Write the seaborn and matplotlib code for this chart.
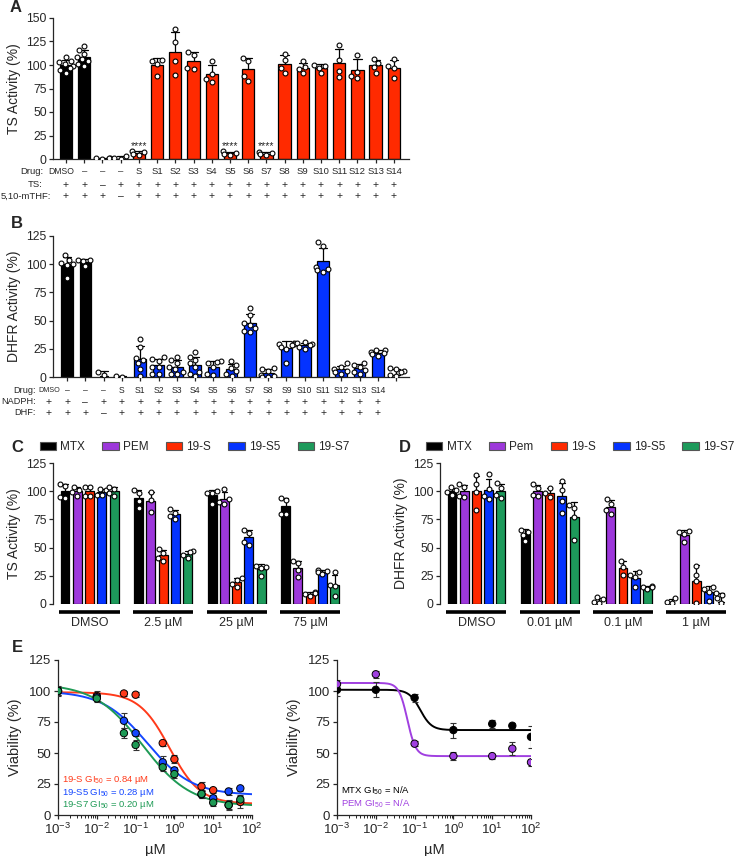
import warnings
import numpy as np
import pandas as pd
import matplotlib
matplotlib.use("Agg")
import matplotlib.pyplot as plt
import seaborn as sns
from matplotlib.patches import Patch
from matplotlib.ticker import LogLocator, NullFormatter

warnings.filterwarnings("ignore")

sns.set_style("ticks")
plt.rcParams["font.family"] = ["Liberation Sans", "DejaVu Sans"]
plt.rcParams["axes.linewidth"] = 0.9
plt.rcParams["xtick.major.width"] = 0.9
plt.rcParams["ytick.major.width"] = 0.9
plt.rcParams["xtick.major.size"] = 3
plt.rcParams["ytick.major.size"] = 3

BLACK = "#000000"
RED = "#FF2A00"
BLUE = "#0433FF"
PURPLE = "#9D38DB"
GREEN = "#1D9A5B"

# ---- panel A: TS activity ----
a_drug = ["DMSO", "–", "–", "–", "S"] + [f"S{i}" for i in range(1, 15)]
a_ts = ["+", "+", "–", "+"] + ["+"] * 15
a_mthf = ["+", "+", "+", "–"] + ["+"] * 15
a_values = [
    [108, 104, 103, 101, 99, 97, 95, 92],
    [120, 116, 112, 108, 106, 104, 101, 99],
    [1.0, 0.6, 0.3, 0.8],
    [3.5, 1.0, 0.2],
    [9, 7, 5, 4],
    [105, 104, 101, 88],
    [138, 124, 104, 89],
    [114, 111, 97, 96],
    [104, 90, 85, 82],
    [8, 6.5, 5, 4],
    [107, 104, 88, 83],
    [7.5, 6, 5, 4],
    [112, 105, 97, 92],
    [104, 98, 96, 91],
    [100, 99, 97, 91],
    [121, 105, 94, 87],
    [111, 93, 88, 86],
    [106, 102, 98, 92],
    [106, 99, 97, 86],
]
a_colors = [BLACK, BLACK, None, None] + [RED] * 15
a_stars = ["S", "S5", "S7"]

# ---- panel B: DHFR activity ----
b_drug = ["DMSO", "–", "–", "–", "S"] + [f"S{i}" for i in range(1, 15)]
b_nadph = ["+", "+", "–", "+"] + ["+"] * 15
b_dhf = ["+", "+", "+", "–"] + ["+"] * 15
b_values = [
    [108, 104, 101, 100, 99, 88],
    [104, 103.5, 103, 98],
    [1.5, 4.5],
    [0.5, 0.2],
    [34, 27, 17, 15, 12, 7, 1],
    [17.5, 16, 14.5, 9, 8.5, 3, 3],
    [18, 15, 12.5, 9, 7.5, 4.5, 3, 2.5],
    [22, 18, 15, 12, 9, 4.5, 3, 0.5],
    [14, 13, 12, 9, 3, 2],
    [14, 11, 8, 5, 3, 1],
    [61, 55, 48, 46, 43, 41, 40],
    [8, 7.5, 5.5, 1.5, 0.5, 0, 0],
    [30, 29.5, 29, 28, 27, 25, 12],
    [31, 30, 29, 28, 27, 25],
    [119.5, 116, 97.5, 96, 94.5, 93],
    [12, 9, 7, 5, 4, 3],
    [12.5, 11, 9, 6, 4.5, 3],
    [24, 23.5, 22, 21, 20, 19],
    [8, 7, 5, 4, 2, 0.5],
]
b_colors = [BLACK, BLACK, None, None] + [BLUE] * 14 + [None]

# ---- panels C and D: grouped bars ----
compounds_c = ["MTX", "PEM", "19-S", "19-S5", "19-S7"]
compounds_d = ["MTX", "Pem", "19-S", "19-S5", "19-S7"]
compound_colors = [BLACK, PURPLE, RED, BLUE, GREEN]
c_doses = ["DMSO", "2.5 µM", "25 µM", "75 µM"]
d_doses = ["DMSO", "0.01 µM", "0.1 µM", "1 µM"]

c_mtx = [[106, 105, 95, 94], [101, 98, 91, 85], [100, 98, 98, 89], [94, 92, 80, 80]]
c_pem = [[104, 101, 99, 96], [99, 92, 82], [102, 93, 90, 89], [38, 36, 30, 24]]
c_19s = [[104, 104, 96, 96], [49, 45, 41, 38], [23, 21, 18, 15], [10.5, 9.5, 8.5, 7]]
c_19s5 = [[102, 101, 97, 97], [84, 81, 78, 75], [66, 63, 55, 52], [30.5, 29.5, 28, 27]]
c_19s7 = [[104, 102, 98, 96], [47, 46, 43, 41], [34, 33, 32, 25], [28, 17, 16, 7]]

d_mtx = [[104, 101, 99, 97], [66, 64, 61, 56], [6, 4, 2, 1], [5, 2, 0.5]]
d_pem = [[106, 104, 96, 95], [106, 103, 97, 96], [93, 89, 83, 80], [65, 64, 62, 55]]
d_19s = [[114, 106, 99, 83], [103, 98, 95], [38, 33, 26], [34, 26, 20, 1]]
d_19s5 = [[115, 102, 96, 93], [109, 101, 91, 81], [28, 26, 24, 15], [15, 13, 11, 3]]
d_19s7 = [[107, 103, 97, 94], [88, 85, 77, 57], [16, 15.5, 15, 13], [10, 8, 5, 1]]
d_hidden = [(0, 2), (0, 3), (4, 3)]  # (compound, dose) drawn as points only

# ---- panel E: viability ----
e1_conc = [1e-3, 1e-2, 0.05, 0.1, 0.5, 1, 5, 10, 25, 50]
e1_red = [100, 96, 98, 97, 58, 45, 23, 20, 8, 10.5]
e1_red_sd = [3, 4, 2, 2, 2, 3, 4, 2, 4, 5]
e1_blue = [100, 95, 76, 66, 42.5, 36, 16.5, 13.5, 19, 21.5]
e1_blue_sd = [3, 3, 6, 2, 5, 3, 3, 3, 3, 2]
e1_green = [100, 94, 66, 56.5, 38.5, 33, 17, 10, 8, 12.5]
e1_green_sd = [4, 3, 4, 4, 3, 3, 3, 3, 3, 4]
e1_names = ["19-S", "19-S5", "19-S7"]
e1_colors = ["#FF3A1A", "#1447FF", "#1E9A55"]
# fitted 4PL parameters (top, bottom, ec50, hill)
e1_fit = [(99, 9, 0.75, 1.1), (100, 16, 0.2, 0.75), (106, 7, 0.15, 0.7)]
e1_text = ["19-S GI$_{\\mathdefault{50}}$ = 0.84 µM",
           "19-S5 GI$_{\\mathdefault{50}}$ = 0.28 µM",
           "19-S7 GI$_{\\mathdefault{50}}$ = 0.20 µM"]

e2_conc = [1e-3, 1e-2, 0.1, 1, 10, 33, 100]
e2_mtx = [101, 101, 94.5, 68.5, 73.5, 72, 63]
e2_mtx_sd = [5, 6, 3, 6, 3, 2, 9]
e2_pem = [105.5, 113.5, 57.5, 47.5, 47.5, 53.5, 42.5]
e2_pem_sd = [3, 3, 2, 3, 2, 5, 3]
e2_names = ["MTX", "PEM"]
e2_colors = [BLACK, "#A040E0"]
e2_fit = [(101, 68.5, 0.14, 3.0), (106.5, 47.5, 0.065, 4.0)]
e2_text = ["MTX GI$_{\\mathdefault{50}}$ = N/A", "PEM GI$_{\\mathdefault{50}}$ = N/A"]


def px_axes(left, top, right, bottom):
    W, H = 740, 856
    return fig.add_axes([left / W, 1 - bottom / H, (right - left) / W, (bottom - top) / H])


def draw_bars(ax, slots, reps, colors, n_slots, width, point_size):
    rows = [(f"s{s}", v) for s, vals in zip(slots, reps) for v in vals]
    df = pd.DataFrame(rows, columns=["slot", "value"])
    order = [f"s{i}" for i in range(n_slots)]
    sns.barplot(data=df, x="slot", y="value", order=order, errorbar="sd",
                color="black", width=width, capsize=0.45,
                err_kws={"color": "black", "linewidth": 0.9, "zorder": 1.5}, ax=ax)
    slot_color = dict(zip(slots, colors))
    for patch in list(ax.patches):
        s = int(round(patch.get_x() + patch.get_width() / 2))
        c = slot_color.get(s)
        if c is None:
            patch.set_visible(False)
        else:
            patch.set_facecolor(c)
            patch.set_edgecolor("black")
            patch.set_linewidth(0.9)
            patch.set_zorder(2)
    sns.swarmplot(data=df, x="slot", y="value", order=order, color="white",
                  edgecolor="black", linewidth=0.8, size=point_size, zorder=3, ax=ax)
    ax.set_xlabel("")
    sns.despine(ax=ax)


def style_y(ax, label, top, step=25):
    ax.set_ylim(0, top)
    ax.set_yticks(np.arange(0, top + 1, step))
    ax.tick_params(axis="y", labelsize=8.8, pad=1.5)
    ax.set_ylabel(label, fontsize=10)


fig = plt.figure(figsize=(7.4, 8.56), dpi=100)

# ---------- A ----------
ax_a = px_axes(53, 18, 409, 159)
draw_bars(ax_a, list(range(19)), a_values, a_colors, 19, 0.68, 3.5)
ax_a.set_xlim(-0.713, 18.83)
ax_a.set_xticks(range(19))
ax_a.set_xticklabels([])
style_y(ax_a, "TS Activity (%)", 150)
tr = ax_a.get_xaxis_transform()
for i, name in enumerate(a_drug):
    if name in a_stars:
        ax_a.text(i, 14, "****", ha="center", va="center", fontsize=7.5)
for row, (y, header, hx) in enumerate([(-0.092, "Drug:", -1.26), (-0.184, "TS:", -1.26),
                                        (-0.262, "5,10-mTHF:", -0.8)]):
    ax_a.text(hx, y, header, transform=tr, ha="right", va="center", fontsize=6.8)
    labels = [a_drug, a_ts, a_mthf][row]
    for i, lab in enumerate(labels):
        fs = 6.8 if row == 0 else 7.5
        if lab == "DMSO":
            fs = 6.2
        ax_a.text(i - 0.25 if lab == "DMSO" else i, y, lab, transform=tr,
                  ha="center", va="center", fontsize=fs)

# ---------- B ----------
ax_b = px_axes(53, 236, 409, 377)
draw_bars(ax_b, list(range(19)), b_values, b_colors, 19, 0.64, 3.5)
ax_b.set_xlim(-0.77, 18.7)
ax_b.set_xticks(range(19))
ax_b.set_xticklabels([])
style_y(ax_b, "DHFR Activity (%)", 125)
tr = ax_b.get_xaxis_transform()
for row, (y, header) in enumerate([(-0.099, "Drug:"), (-0.177, "NADPH:"), (-0.255, "DHF:")]):
    ax_b.text(-1.7, y, header, transform=tr, ha="right", va="center", fontsize=6.6)
    labels = [b_drug, b_nadph, b_dhf][row]
    for i, lab in enumerate(labels):
        fs = 6.2 if row == 0 else 7.5
        if lab == "DMSO":
            fs = 5.2
        ax_b.text(i - 1, y, lab, transform=tr, ha="center", va="center", fontsize=fs)


# ---------- C and D ----------
def grouped_panel(ax, series, names, doses, hidden, ylabel, legend_x):
    slots, reps, colors = [], [], []
    for ci, comp in enumerate(series):
        for di, vals in enumerate(comp):
            slots.append(di * 6 + ci)
            reps.append(vals)
            colors.append(None if (ci, di) in hidden else compound_colors[ci])
    draw_bars(ax, slots, reps, colors, 23, 0.73, 3.5)
    ax.set_xlim(-0.98, 23)
    ax.set_xticks([])
    sns.despine(ax=ax, bottom=True)
    style_y(ax, ylabel, 125)
    tr = ax.get_xaxis_transform()
    for g, dose in enumerate(doses):
        ax.plot([g * 6 - 0.45, g * 6 + 4.45], [-0.057, -0.057], transform=tr,
                color="black", lw=2.6, solid_capstyle="butt", clip_on=False)
        ax.text(g * 6 + 2, -0.135, dose, transform=tr, ha="center", va="center", fontsize=9)
    handles = [Patch(facecolor=c, edgecolor="#555555", linewidth=0.8, label=n)
               for n, c in zip(names, compound_colors)]
    ax.legend(handles=handles, loc="center left", bbox_to_anchor=(legend_x, 1.113),
              ncol=5, frameon=False, fontsize=8.5, handlelength=1.4, handleheight=0.7,
              handletextpad=0.35, columnspacing=1.45, borderaxespad=0, borderpad=0)


ax_c = px_axes(53, 463, 347, 604)
grouped_panel(ax_c, [c_mtx, c_pem, c_19s, c_19s5, c_19s7], compounds_c, c_doses, [],
              "TS Activity (%)", -0.045)
ax_d = px_axes(440, 463, 733, 604)
grouped_panel(ax_d, [d_mtx, d_pem, d_19s, d_19s5, d_19s7], compounds_d, d_doses, d_hidden,
              "DHFR Activity (%)", -0.048)


# ---------- E ----------
def four_pl(x, top, bottom, ec50, hill):
    return bottom + (top - bottom) / (1 + (x / ec50) ** hill)


def viability_panel(ax, conc, means, sds, names, colors, fits, texts, text_y):
    pts = pd.DataFrame([(n, x, y) for n, ys in zip(names, means) for x, y in zip(conc, ys)],
                       columns=["compound", "conc", "viability"])
    xs = np.logspace(-3, 2, 300)
    curves = pd.DataFrame([(n, x, four_pl(x, *p)) for n, p in zip(names, fits) for x in xs],
                          columns=["compound", "conc", "viability"])
    pal = dict(zip(names, colors))
    ax.set_xscale("log")
    sns.lineplot(data=curves, x="conc", y="viability", hue="compound", palette=pal,
                 linewidth=1.4, legend=False, ax=ax, zorder=2)
    for ys, es in zip(means, sds):
        ax.errorbar(conc, ys, yerr=es, fmt="none", ecolor="#333333", elinewidth=0.8,
                    capsize=2.5, capthick=0.8, zorder=3)
    sns.scatterplot(data=pts, x="conc", y="viability", hue="compound", palette=pal,
                    s=28, edgecolor="black", linewidth=0.7, legend=False, ax=ax, zorder=4)
    for t, c, y in zip(texts, colors, text_y):
        ax.text(0.022, y, t, transform=ax.transAxes, color=c, fontsize=6.8, va="center")
    ax.set_xlim(1e-3, 1e2)
    ax.set_ylim(0, 125)
    ax.set_yticks(np.arange(0, 126, 25))
    ax.xaxis.set_major_locator(LogLocator(base=10, numticks=10))
    ax.xaxis.set_minor_locator(LogLocator(base=10, subs=np.arange(2, 10), numticks=20))
    ax.xaxis.set_minor_formatter(NullFormatter())
    ax.tick_params(axis="x", which="minor", length=2, width=0.7)
    ax.tick_params(labelsize=9.5, pad=2)
    ax.set_xlabel("µM", fontsize=10.5)
    ax.set_ylabel("Viability (%)", fontsize=10.5, labelpad=5)
    sns.despine(ax=ax)


ax_e1 = px_axes(58, 660, 252, 815)
viability_panel(ax_e1, e1_conc, [e1_red, e1_blue, e1_green],
                [e1_red_sd, e1_blue_sd, e1_green_sd], e1_names, e1_colors, e1_fit,
                e1_text, [0.225, 0.145, 0.065])
ax_e2 = px_axes(337, 660, 531, 815)
viability_panel(ax_e2, e2_conc, [e2_mtx, e2_pem], [e2_mtx_sd, e2_pem_sd], e2_names,
                e2_colors, e2_fit, e2_text, [0.155, 0.075])

# panel letters
for letter, x, y in [("A", 16, 7), ("B", 17, 223), ("C", 17, 447), ("D", 405, 447), ("E", 17, 647)]:
    fig.text(x / 740, 1 - y / 856, letter, fontsize=12, fontweight="bold",
             ha="center", va="center")

fig.savefig("out.png", dpi=100)
